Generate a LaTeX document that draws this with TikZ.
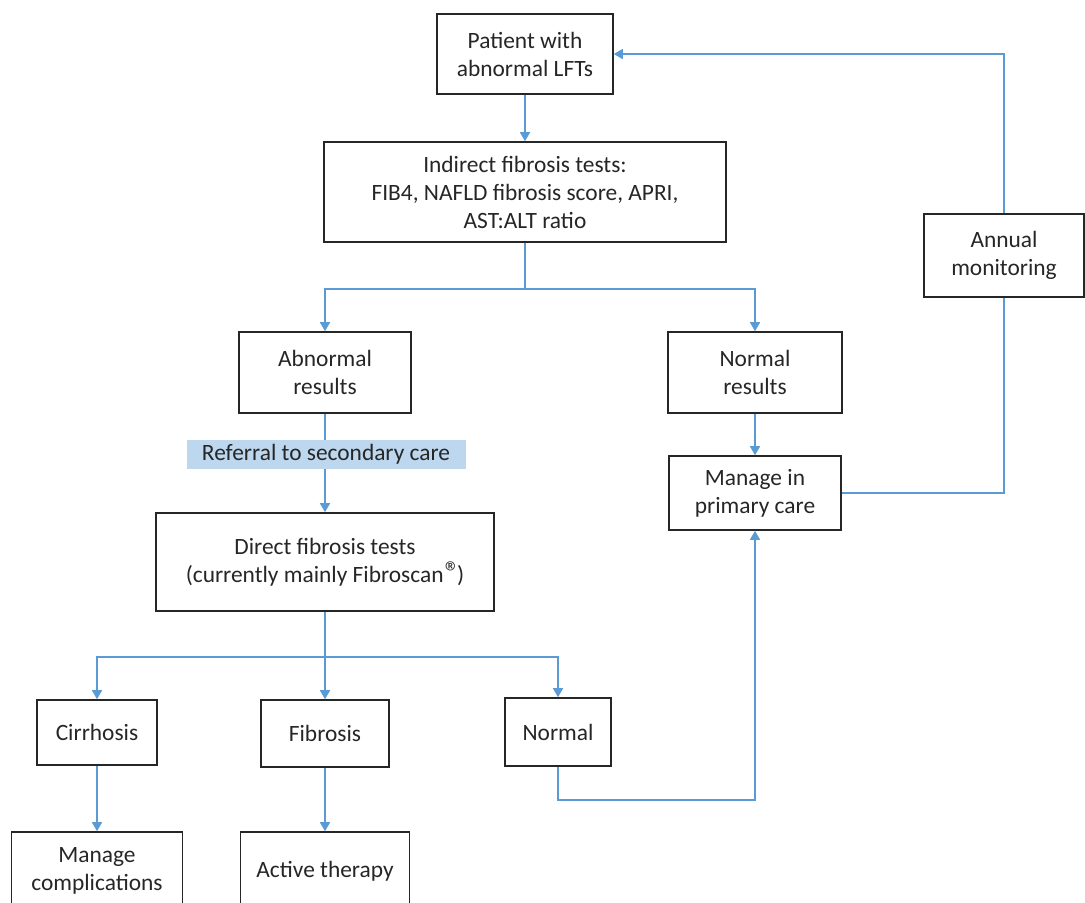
\documentclass[tikz,border=0pt]{standalone}
\usepackage{fontspec}
\setmainfont{Carlito}
\usetikzlibrary{arrows.meta}
\definecolor{flowblue}{RGB}{91,155,213}
\definecolor{notefill}{RGB}{189,215,238}
\definecolor{inkgray}{RGB}{38,38,38}

\begin{document}
\begin{tikzpicture}[x=0.5pt, y=-0.5pt, font=\fontsize{11.7}{14}\selectfont, text=inkgray, box/.style={draw=inkgray, line width=0.8pt, align=center, inner sep=2pt}, note/.style={fill=notefill, align=center, inner sep=2pt}, link/.style={draw=flowblue, line width=0.8pt}, arrow/.style={link, -{Triangle[width=5pt,length=4.5pt]}}]
\useasboundingbox (0,0) rectangle (1085,902);
\node[box, minimum width=88pt, minimum height=40pt] (patient) at (525,54) {Patient with\\abnormal LFTs};
\node[box, minimum width=201pt, minimum height=50pt] (indirect) at (525,192) {Indirect fibrosis tests:\\FIB4, NAFLD fibrosis score, APRI,\\AST:ALT ratio};
\node[box, minimum width=86pt, minimum height=40.5pt] (abnormal) at (325,372.5) {Abnormal\\results};
\node[box, minimum width=87pt, minimum height=40.5pt] (normalres) at (755,372.5) {Normal\\results};
\node[note, minimum width=139.5pt, minimum height=14.5pt] (referral) at (326,454.5) {Referral to secondary care};
\node[box, minimum width=86pt, minimum height=37pt] (primary) at (755,493) {Manage in\\primary care};
\node[box, minimum width=169pt, minimum height=49pt] (direct) at (325,562) {Direct fibrosis tests\\(currently mainly Fibroscan\kern0.05em{\fontsize{15}{14}\selectfont ®}\kern-0.12em)};
\node[box, minimum width=60pt, minimum height=32.5pt] (cirrhosis) at (97,732.5) {Cirrhosis};
\node[box, minimum width=64pt, minimum height=33.5pt] (fibrosis) at (325,733.5) {Fibrosis};
\node[box, minimum width=53pt, minimum height=34pt] (normal) at (558,732) {Normal};
\node[box, minimum width=85.5pt, minimum height=39pt] (complications) at (97,871) {Manage\\complications};
\node[box, minimum width=84.5pt, minimum height=39pt] (active) at (325,871) {Active therapy};
\node[box, minimum width=80pt, minimum height=41.5pt] (annual) at (1004,255.5) {Annual\\monitoring};

% first line tests
\draw[arrow] (patient.south) -- (indirect.north);
\draw[link] (indirect.south) -- ++(0,46) coordinate (split1);
\draw[arrow] (split1) -| (abnormal.north);
\draw[arrow] (split1) -| (normalres.north);
\draw[link] (abnormal.south) -- (referral.north -| abnormal.south);
\draw[arrow] (referral.south -| direct.north) -- (direct.north);
\draw[arrow] (normalres.south) -- (primary.north);

% secondary care
\draw[link] (direct.south) -- ++(0,45) coordinate (split2);
\draw[arrow] (split2) -| (cirrhosis.north);
\draw[arrow] (split2) -- (fibrosis.north);
\draw[arrow] (split2) -| (normal.north);
\draw[arrow] (cirrhosis.south) -- (complications.north);
\draw[arrow] (fibrosis.south) -- (active.north);
\draw[arrow] (normal.south) -- ++(0,33) -| (primary.south);

% monitoring loop
\draw[link] (primary.east) -| (annual.south);
\draw[arrow] (annual.north) |- (patient.east);
\end{tikzpicture}
\end{document}
